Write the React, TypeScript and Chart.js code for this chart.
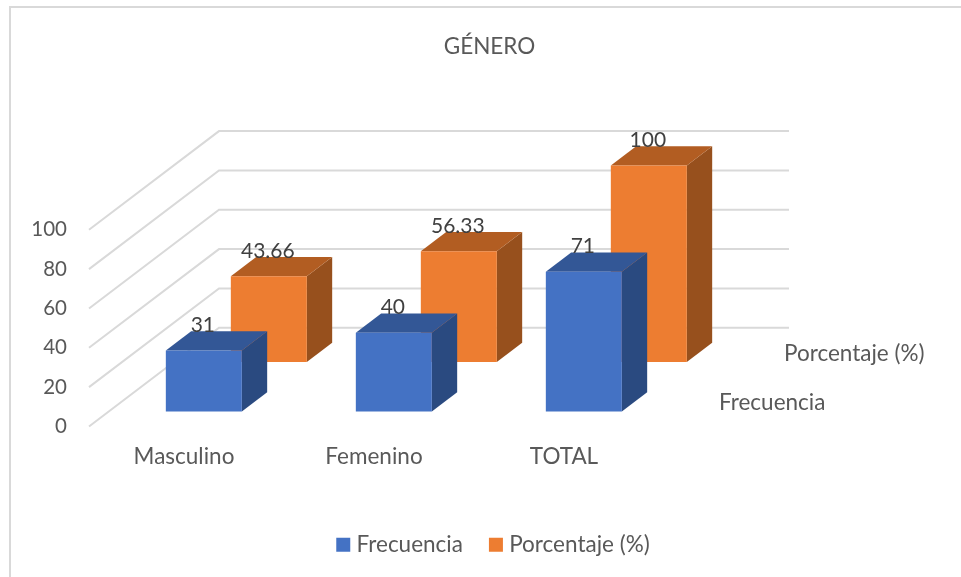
import React, { useEffect, useRef } from "react";
import { Chart, registerables } from "chart.js";

Chart.register(...registerables);

const titleText = "GÉNERO";
const categories = ["Masculino", "Femenino", "TOTAL"];
const frecuencia = [31, 40, 71];
const porcentaje = [43.66, 56.33, 100];
const labelsFrecuencia = ["31", "40", "71"];
const labelsPorcentaje = ["43.66", "56.33", "100"];
const seriesNames = ["Frecuencia", "Porcentaje (%)"];
const yMax = 100;
const yStep = 20;

const FONT = "Lato";
const TEXT_SIZE = 22.5;
const DIGIT_SIZE = 20.5;
const GRID = "#D9D9D9";
const AXIS_TEXT = "#595959";
const VALUE_TEXT = "#404040";
const WALL_DX = 130;
const WALL_DY = -98.7;
const BAR_DEPTH = 0.195;
const SERIES_DEPTH = [0.25, 0.75];
const FILL = ["#4472C4", "#ED7D31"];
const TOP_FACE = ["#335796", "#B25D22"];
const SIDE_FACE = ["#2A4A80", "#97501D"];
const VALUE_LABELS = [labelsFrecuencia, labelsPorcentaje];

const poly = (ctx: CanvasRenderingContext2D, pts: number[][], color: string) => {
  ctx.beginPath();
  pts.forEach(([x, y], i) => (i ? ctx.lineTo(x, y) : ctx.moveTo(x, y)));
  ctx.closePath();
  ctx.fillStyle = color;
  ctx.fill();
};

const frontOffset = (i: number) => {
  const d = SERIES_DEPTH[i] - BAR_DEPTH / 2;
  return [WALL_DX * d, WALL_DY * d];
};

const box3d = {
  id: "box3d",
  beforeDraw(chart: any) {
    const { ctx, width, height } = chart;
    ctx.save();
    ctx.strokeStyle = GRID;
    ctx.lineWidth = 2;
    ctx.beginPath();
    ctx.moveTo(10, height);
    ctx.lineTo(10, 7);
    ctx.lineTo(width, 7);
    ctx.stroke();
    ctx.restore();
  },
  afterLayout(chart: any) {
    chart.legend.left += 6;
    chart.legend.right += 6;
    chart.legend.top -= 11;
    chart.legend.bottom -= 11;
  },
  beforeDatasetsDraw(chart: any) {
    const { ctx, scales } = chart;
    const { x: xs, y: ys } = scales;
    ctx.save();
    ctx.strokeStyle = GRID;
    ctx.lineWidth = 2;
    ys.ticks.forEach((t: any) => {
      const y = ys.getPixelForValue(t.value);
      ctx.beginPath();
      ctx.moveTo(xs.left, y);
      ctx.lineTo(xs.left + WALL_DX, y + WALL_DY);
      ctx.lineTo(xs.right + WALL_DX, y + WALL_DY);
      ctx.stroke();
    });
    ctx.restore();
    ctx.save();
    ctx.font = `${TEXT_SIZE}px ${FONT}`;
    ctx.fillStyle = AXIS_TEXT;
    ctx.textBaseline = "middle";
    ctx.textAlign = "left";
    seriesNames.forEach((name, i) => {
      const d = SERIES_DEPTH[i];
      ctx.fillText(name, xs.right + WALL_DX * d + 27.5, ys.getPixelForValue(0) + WALL_DY * d + 1);
    });
    ctx.restore();
  },
  beforeDatasetDraw(chart: any, args: any) {
    const { ctx } = chart;
    const i = args.index;
    const [ox, oy] = frontOffset(i);
    const dx = WALL_DX * BAR_DEPTH;
    const dy = WALL_DY * BAR_DEPTH;
    args.meta.data.forEach((el: any) => {
      const l = el.x - el.width / 2 + ox;
      const r = el.x + el.width / 2 + ox;
      const t = el.y + oy;
      const b = el.base + oy;
      poly(ctx, [[r, t], [r + dx, t + dy], [r + dx, b + dy], [r, b]], SIDE_FACE[i]);
      poly(ctx, [[l, t], [l + dx, t + dy], [r + dx, t + dy], [r, t]], TOP_FACE[i]);
    });
    ctx.save();
    ctx.translate(ox, oy);
  },
  afterDatasetDraw(chart: any) {
    chart.ctx.restore();
  },
  afterDatasetsDraw(chart: any) {
    const { ctx } = chart;
    ctx.save();
    ctx.font = `21px ${FONT}`;
    ctx.fillStyle = VALUE_TEXT;
    ctx.textAlign = "center";
    ctx.textBaseline = "middle";
    [1, 0].forEach((i) => {
      const [ox, oy] = frontOffset(i);
      chart.getDatasetMeta(i).data.forEach((el: any, k: number) => {
        ctx.fillText(VALUE_LABELS[i][k], el.x + ox - 1, el.y + oy + WALL_DY * BAR_DEPTH - 6);
      });
    });
    ctx.restore();
  },
};

export default function App() {
  const ref = useRef<HTMLCanvasElement>(null);
  useEffect(() => {
    const font = { family: FONT, size: TEXT_SIZE };
    const chart = new Chart(ref.current as HTMLCanvasElement, {
      type: "bar",
      data: {
        labels: categories,
        datasets: [
          { label: seriesNames[0], data: frecuencia, backgroundColor: FILL[0], clip: false as any },
          { label: seriesNames[1], data: porcentaje, backgroundColor: FILL[1], clip: false as any },
        ],
      },
      options: {
        animation: false,
        responsive: false,
        grouped: false as any,
        barPercentage: 0.4,
        categoryPercentage: 1,
        layout: { autoPadding: false, padding: { left: 18, right: 0, top: 0, bottom: 0 } },
        plugins: {
          title: {
            display: true,
            text: titleText,
            color: AXIS_TEXT,
            font: { ...font, weight: "normal" },
            padding: { top: 33.5, bottom: 169.3 },
          },
          legend: {
            position: "bottom",
            labels: {
              color: AXIS_TEXT,
              font,
              usePointStyle: true,
              pointStyle: "rect",
              boxWidth: 4,
              boxHeight: 14,
              padding: 31,
            },
          },
          tooltip: { enabled: false },
        },
        scales: {
          x: {
            grid: { display: false, drawTicks: false },
            border: { display: false },
            ticks: { color: AXIS_TEXT, font, padding: 16.5, maxRotation: 0 },
            afterFit: (s: any) => { s.height = 87; },
          },
          y: {
            min: 0,
            max: yMax,
            grid: { display: false, drawTicks: false },
            border: { display: false },
            ticks: { color: AXIS_TEXT, font: { family: FONT, size: DIGIT_SIZE }, padding: 22, stepSize: yStep },
            afterFit: (s: any) => { s.width = 71; },
          },
          y1: {
            position: "right",
            grid: { display: false, drawTicks: false },
            border: { display: false },
            ticks: { display: false },
            afterFit: (s: any) => { s.width = 302; },
          },
        },
      } as any,
      plugins: [box3d],
    });
    return () => chart.destroy();
  }, []);
  return (
    <div style={{ position: "absolute", left: 0, top: 0, width: 961, height: 577, background: "#fff" }}>
      <canvas ref={ref} width={961} height={577} style={{ display: "block" }} />
    </div>
  );
}
